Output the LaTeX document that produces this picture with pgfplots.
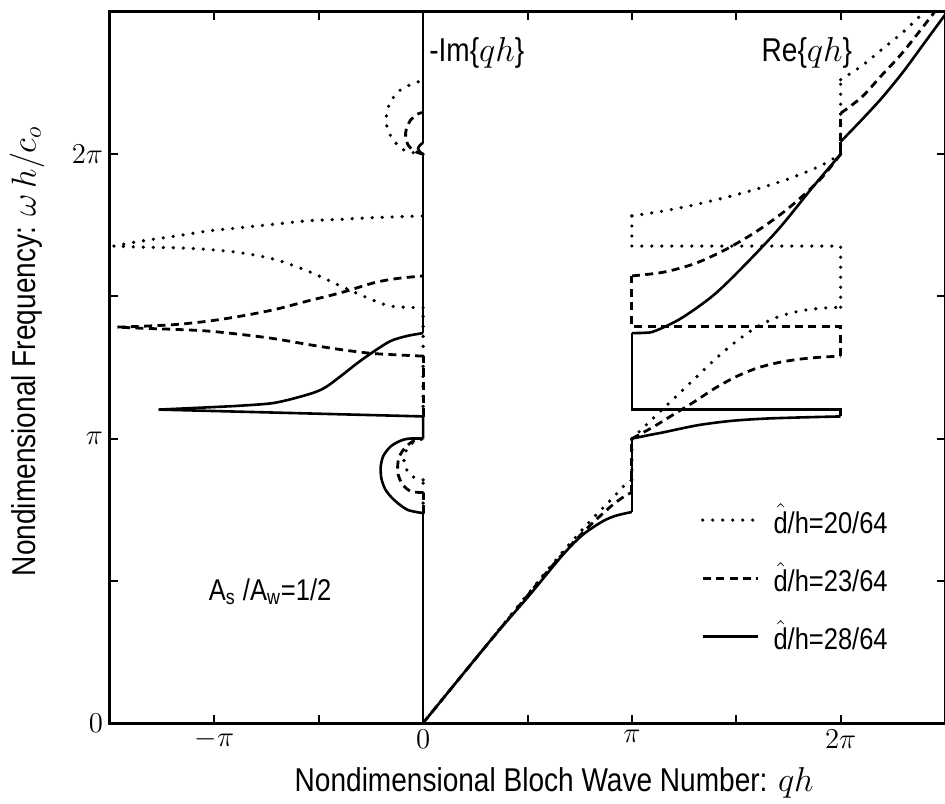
\documentclass[border=0pt]{standalone}
\usepackage{fontspec}
\setmainfont{Liberation Sans}[FakeStretch=0.85]
\usepackage{pgfplots}
\pgfplotsset{compat=1.18}
\begin{document}
\begin{tikzpicture}
\pgfplotsset{
  dotsty/.style={line width=1.8pt, dash pattern=on 0pt off 5pt, line cap=round},
  dashsty/.style={line width=1.4pt, dash pattern=on 4pt off 2.7pt},
  solsty/.style={line width=1.3pt, solid},
  sm/.style={smooth, tension=0.5},
}
\begin{axis}[
  scale only axis, width=417.5pt, height=355.5pt,
  xmin=-1.5, xmax=2.5, ymin=0, ymax=2.5,
  axis line style={line width=1.5pt},
  xtick={-1,0,1,2}, xticklabels={$-\pi$,$0$,$\pi$,$2\pi$},
  minor xtick={-0.5,0.5,1.5},
  ytick={0,1,2}, yticklabels={$0$,$\pi$,$2\pi$},
  minor ytick={0.5,1.5},
  tick align=inside, major tick length=4pt, minor tick length=4pt,
  every tick/.style={black, line width=1pt},
  ticklabel style={font=\fontsize{14.5}{16}\selectfont},
  xlabel={Nondimensional Bloch Wave Number: $qh$},
  ylabel={Nondimensional Frequency: $\omega\,h/c_o$},
  label style={font=\fontsize{16.5}{19}\selectfont},
  xlabel style={at={(axis description cs:0.532,-0.0844)}, anchor=center},
  ylabel style={at={(axis description cs:-0.0994,0.523)}, anchor=center},
  legend style={at={(axis cs:1.30,0.80)}, anchor=north west, draw=none, fill=none,
    font=\fontsize{15}{17}\selectfont, row sep=9pt, nodes={inner sep=2pt},
    /tikz/every odd column/.append style={column sep=5pt}},
  legend cell align=left,
  legend image code/.code={\draw[#1] (0pt,0pt) -- (27.5pt,0pt);},
]
% ================= d/h = 20/64 (dotted) =================
% Re{qh}
\addplot[dotsty, sm, forget plot] table {
0 0
0.194 0.175
0.352 0.318
0.5 0.452
0.6 0.542
0.7 0.628
0.8 0.71
0.9 0.785
0.97 0.84
1.0 0.855
};
\addplot[dotsty, forget plot] table {
1.0 0.855
1.0 1.0
};
\addplot[dotsty, sm, forget plot] table {
1.0 1.0
1.1 1.07
1.2 1.14
1.3 1.21
1.4 1.28
1.5 1.342
1.6 1.393
1.7 1.428
1.8 1.448
1.9 1.458
2.0 1.462
};
\addplot[dotsty, forget plot] table {
2.0 1.462
2.0 1.677
1.0 1.677
1.0 1.783
};
\addplot[dotsty, sm, forget plot] table {
1.0 1.783
1.15 1.80
1.3 1.822
1.45 1.848
1.6 1.878
1.75 1.913
1.9 1.958
2.0 2.0
};
\addplot[dotsty, forget plot] table {
2.0 2.0
2.0 2.262
};
\addplot[dotsty, sm, forget plot] table {
2.0 2.262
2.1 2.31
2.2 2.37
2.3 2.43
2.4 2.5
};
% -Im{qh}
\addplot[dotsty, forget plot] table {
0 0.738
0 0.855
};
\addplot[dotsty, sm, forget plot] table {
0 0.855
-0.04 0.862
-0.07 0.88
-0.09 0.91
-0.09 0.94
-0.072 0.97
-0.04 0.99
0 1.0
};
\addplot[dotsty, forget plot] table {
0 1.078
0 1.46
};
\addplot[dotsty, sm, forget plot] table {
0 1.46
-0.156 1.466
-0.267 1.495
-0.394 1.536
-0.552 1.589
-0.71 1.630
-0.87 1.653
-1.029 1.665
-1.187 1.671
-1.346 1.673
-1.481 1.677
};
\addplot[dotsty, sm, forget plot] table {
-1.481 1.677
-1.346 1.695
-1.187 1.712
-1.029 1.730
-0.87 1.742
-0.71 1.754
-0.552 1.766
-0.394 1.771
-0.235 1.777
0 1.783
};
\addplot[dotsty, sm, forget plot] table {
0 2.0
-0.052 2.006
-0.1 2.018
-0.146 2.053
-0.174 2.099
-0.171 2.158
-0.124 2.217
-0.044 2.25
0 2.257
};
% ================= d/h = 23/64 (dashed) =================
% Re{qh}
\addplot[dashsty, sm, forget plot] table {
0 0
0.194 0.175
0.352 0.316
0.5 0.448
0.6 0.537
0.7 0.62
0.8 0.695
0.9 0.762
0.97 0.80
1.0 0.81
};
\addplot[dashsty, forget plot] table {
1.0 0.81
1.0 1.0
};
\addplot[dashsty, sm, forget plot] table {
1.0 1.0
1.1 1.04
1.2 1.085
1.3 1.13
1.4 1.178
1.5 1.218
1.6 1.248
1.7 1.267
1.8 1.279
1.9 1.286
2.0 1.29
};
\addplot[dashsty, forget plot] table {
2.0 1.29
2.0 1.393
1.0 1.393
1.0 1.572
};
\addplot[dashsty, sm, forget plot] table {
1.0 1.572
1.15 1.585
1.3 1.615
1.45 1.665
1.6 1.73
1.75 1.81
1.9 1.91
2.0 2.0
};
\addplot[dashsty, forget plot] table {
2.0 2.0
2.0 2.144
};
\addplot[dashsty, sm, forget plot] table {
2.0 2.144
2.1 2.2
2.2 2.28
2.3 2.36
2.45 2.5
};
% -Im{qh}
\addplot[dashsty, forget plot] table {
0 0.738
0 0.81
};
\addplot[dashsty, sm, forget plot] table {
0 0.81
-0.06 0.815
-0.1 0.84
-0.12 0.875
-0.122 0.905
-0.115 0.935
-0.09 0.965
-0.05 0.99
0 1.0
};
\addplot[dashsty, forget plot] table {
0 1.078
0 1.29
};
\addplot[dashsty, sm, forget plot] table {
0 1.29
-0.235 1.299
-0.394 1.313
-0.552 1.331
-0.71 1.351
-0.87 1.366
-1.029 1.378
-1.187 1.384
-1.346 1.388
-1.465 1.392
};
\addplot[dashsty, sm, forget plot] table {
-1.465 1.392
-1.346 1.395
-1.187 1.401
-1.029 1.413
-0.87 1.431
-0.71 1.454
-0.552 1.484
-0.394 1.513
-0.235 1.548
-0.124 1.563
0 1.572
};
\addplot[dashsty, sm, forget plot] table {
0 2.0
-0.04 2.01
-0.07 2.03
-0.084 2.06
-0.08 2.09
-0.06 2.12
-0.03 2.14
0 2.147
};
% ================= d/h = 28/64 (solid) =================
% Re{qh}
\addplot[solsty, sm, forget plot] table {
0 0
0.194 0.175
0.352 0.316
0.511 0.451
0.670 0.592
0.765 0.662
0.86 0.709
0.924 0.729
1.0 0.742
};
\addplot[solsty, forget plot] table {
1.0 0.742
1.0 1.0
};
\addplot[solsty, sm, forget plot] table {
1.0 1.0
1.08 1.012
1.157 1.023
1.315 1.047
1.472 1.062
1.63 1.070
1.787 1.074
2.0 1.078
};
\addplot[solsty, forget plot] table {
2.0 1.078
2.0 1.102
1.0 1.102
1.0 1.371
};
\addplot[solsty, sm, forget plot] table {
1.0 1.371
1.06 1.372
1.11 1.378
1.236 1.423
1.394 1.506
1.551 1.618
1.709 1.742
1.866 1.884
2.0 2.0
};
\addplot[solsty, forget plot] table {
2.0 2.0
2.0 2.044
};
\addplot[solsty, sm, forget plot] table {
2.0 2.044
2.1 2.12
2.2 2.2
2.3 2.29
2.4 2.39
2.5 2.49
};
% -Im{qh}
\addplot[solsty, forget plot] table {
0 0
0 0.738
};
\addplot[solsty, sm, forget plot] table {
0 0.738
-0.076 0.75
-0.14 0.785
-0.18 0.82
-0.2 0.86
-0.203 0.902
-0.19 0.94
-0.156 0.972
-0.11 0.992
-0.068 1.0
0 1.0
};
\addplot[solsty, forget plot] table {
0 1.0
0 1.078
-1.267 1.102
};
\addplot[solsty, sm, forget plot] table {
-1.267 1.102
-1.029 1.110
-0.87 1.116
-0.71 1.126
-0.552 1.155
-0.473 1.178
-0.394 1.220
-0.314 1.266
-0.235 1.307
-0.156 1.343
-0.076 1.361
0 1.371
};
\addplot[solsty, forget plot] table {
0 1.371
0 2.0
};
\addplot[solsty, sm, forget plot] table {
0 2.0
-0.015 2.008
-0.024 2.02
-0.015 2.032
0 2.04
};
\addplot[solsty, forget plot] table {
0 2.04
0 2.5
};
% ---------- legend ----------
\addlegendimage{dotsty}
\addlegendentry{$\hat{\hbox{d}}$/h=20/64}
\addlegendimage{dashsty}
\addlegendentry{$\hat{\hbox{d}}$/h=23/64}
\addlegendimage{solsty}
\addlegendentry{$\hat{\hbox{d}}$/h=28/64}
% ---------- annotations ----------
\node[font=\fontsize{16.5}{19}\selectfont] at (axis cs:0.257,2.356) {-Im\{$qh$\}};
\node[font=\fontsize{16.5}{19}\selectfont] at (axis cs:1.838,2.356) {Re\{$qh$\}};
\node[font=\fontsize{15}{17}\selectfont] at (axis cs:-0.733,0.461) {A\textsubscript{s} /A\textsubscript{w}=1/2};
\end{axis}
\pgfresetboundingbox
\path ([xshift=-55pt,yshift=-40pt]current axis.south west) rectangle ([yshift=6pt]current axis.north east);
\end{tikzpicture}
\end{document}
